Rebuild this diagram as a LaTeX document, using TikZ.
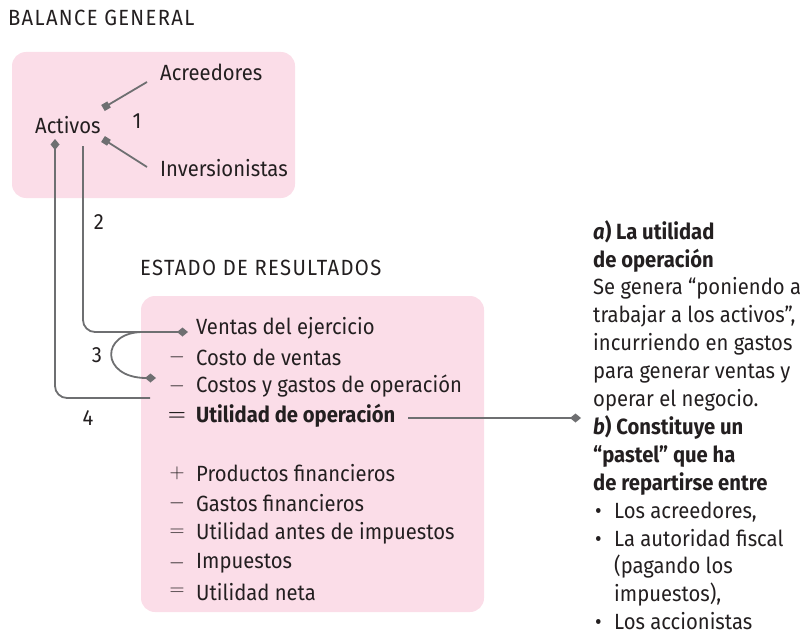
\documentclass[tikz,border=0pt]{standalone}
\usepackage{amsmath}
\usepackage{fontspec}
\setmainfont{Fira Sans}[FakeStretch=0.92]
\newfontfamily\capsfont{Fira Sans}[FakeStretch=0.92,LetterSpace=6]
\usetikzlibrary{arrows.meta}
\definecolor{pinkbg}{HTML}{FBDDE8}
\definecolor{linegray}{HTML}{6E6F71}
\definecolor{ink}{HTML}{231F20}
\newcommand{\fs}{\fontsize{22}{27.9}\selectfont}
\begin{document}
\begin{tikzpicture}[x=1pt,y=-1pt,
  txt/.style={anchor=west,inner sep=0pt,text=ink,font=\fs},
  op/.style={anchor=center,inner sep=0pt,text=ink,font=\fs},
  link/.style={draw=linegray,line width=1.8pt},
  sq/.style={-{Square[length=7pt,width=7pt]}},
  dm/.style={-{Diamond[length=11pt,width=9pt]}}]
\useasboundingbox (0,0) rectangle (804,634);
% pink boxes
\fill[pinkbg,rounded corners=14pt] (12,52) rectangle (295,198);
\fill[pinkbg,rounded corners=14pt] (141,296) rectangle (484,612);
% balance general
\node[txt,font=\fs\capsfont] (tbal) at (8,18) {BALANCE GENERAL};
\node[txt] (acr) at (160,72) {Acreedores};
\node[txt] (act) at (35,125) {Activos};
\node[txt] (inv) at (160,168) {Inversionistas};
\node[op] (n1) at (137,121) {1};
\node[op] (n2) at (99,222) {2};
\node[op] (n3) at (97,355) {3};
\node[op] (n4) at (88,418) {4};
% estado de resultados
\node[txt,font=\fs\capsfont] (tres) at (140,268) {ESTADO DE RESULTADOS};
\node[txt] (ven) at (196,328) {Ventas del ejercicio};
\node[op] at (177,357) {$-$};
\node[txt] (cos) at (196,357) {Costo de ventas};
\node[op] at (177,386) {$-$};
\node[txt] (gop) at (196,386) {Costos y gastos de operación};
\node[op] at (177,416) {$\boldsymbol{=}$};
\node[txt] (uop) at (196,416) {\textbf{Utilidad de operación}};
\node[op] at (177,473) {$+$};
\node[txt] (pfi) at (196,473) {Productos financieros};
\node[op] at (177,503) {$-$};
\node[txt] (gfi) at (196,503) {Gastos financieros};
\node[op] at (177,533) {$=$};
\node[txt] (uai) at (196,533) {Utilidad antes de impuestos};
\node[op] at (177,563) {$-$};
\node[txt] (imp) at (196,563) {Impuestos};
\node[op] at (177,592) {$=$};
\node[txt] (une) at (196,592) {Utilidad neta};
% notes on the right
\node[txt,anchor=north west,align=left] (nota) at (593,220) {%
\textbf{\textit{a}) La utilidad}\\
\textbf{de operación}\\
Se genera “poniendo a\\
trabajar a los activos”,\\
incurriendo en gastos\\
para generar ventas y\\
operar el negocio.\\
\textbf{\textit{b}) Constituye un}\\
\textbf{“pastel” que ha}\\
\textbf{de repartirse entre}\\
\makebox[21pt][l]{\hspace{2pt}•}Los acreedores,\\
\makebox[21pt][l]{\hspace{2pt}•}La autoridad fiscal\\
\hspace*{21pt}(pagando los\\
\hspace*{21pt}impuestos),\\
\makebox[21pt][l]{\hspace{2pt}•}Los accionistas};
% connectors
\coordinate (a1) at (147,82);
\coordinate (a2) at (103,108);
\coordinate (i1) at (147,167);
\coordinate (i2) at (103,139);
\draw[link,sq] (a1) -- (a2);
\draw[link,sq] (i1) -- (i2);
\coordinate (p4) at (55,139);
\coordinate (q4) at (150,398);
\draw[link,{Diamond[length=11pt,width=9pt]}-,rounded corners=12pt] (p4) |- (q4);
\coordinate (p2) at (83,146);
\coordinate (q2) at (188,332);
\draw[link,dm,rounded corners=12pt] (p2) |- (q2);
\coordinate (p3) at (143,332);
\coordinate (q3) at (156,378);
\draw[link,dm] (p3) .. controls (100,332) and (100,378) .. (q3);
\coordinate (p5) at (408,418);
\coordinate (q5) at (581,418);
\draw[link,dm] (p5) -- (q5);
\end{tikzpicture}
\end{document}
